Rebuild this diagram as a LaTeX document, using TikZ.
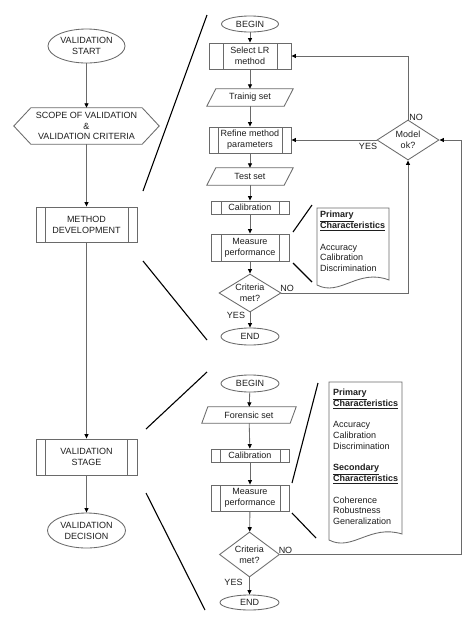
\documentclass[tikz,border=0pt]{standalone}
\usepackage{fontspec}
\setmainfont{Liberation Sans}
\usetikzlibrary{shapes.geometric,arrows.meta}
\definecolor{linegray}{HTML}{6A6A6A}
\definecolor{txtc}{HTML}{1E1E1E}
\newcommand\paraframe[2]{\draw[shp] ([xshift=-#2]#1.south west) -- ([xshift=#2]#1.north west) -- ([xshift=#2]#1.north east) -- ([xshift=-#2]#1.south east) -- cycle;}
\begin{document}
\begin{tikzpicture}[x=1pt,y=-1pt,
 every node/.style={font=\fontsize{9}{10.8}\selectfont, text=txtc, align=center, inner sep=0pt},
 shp/.style={draw=linegray, line width=0.85pt},
 ell/.style={shp, ellipse},
 proc/.style={shp, rectangle, path picture={
   \draw[linegray, line width=0.85pt] ([xshift=#1]path picture bounding box.north west) -- ([xshift=#1]path picture bounding box.south west);
   \draw[linegray, line width=0.85pt] ([xshift=-#1]path picture bounding box.north east) -- ([xshift=-#1]path picture bounding box.south east);}},
 proc/.default=9pt,
 dia/.style={shp, diamond, aspect=1.6},
 arr/.style={draw=linegray, line width=0.85pt, -{Triangle[length=4.5pt,width=4pt,color=black]}},
 zl/.style={draw=black, line width=1.1pt}
]
\fill[white] (0,0) rectangle (474,630);
\useasboundingbox (0,0) rectangle (474,630);

% ---------- left column ----------
\node[ell, minimum width=77, minimum height=34] (vstart) at (86.5,46) {VALIDATION\\START};
\node[minimum width=145, minimum height=36] (scopenode) at (86.5,126) {SCOPE OF VALIDATION\\\&\\VALIDATION CRITERIA};
\draw[shp] (scopenode.west) -- ([xshift=17]scopenode.north west) -- ([xshift=-17]scopenode.north east) -- (scopenode.east) -- ([xshift=-17]scopenode.south east) -- ([xshift=17]scopenode.south west) -- cycle;
\node[proc=9pt, minimum width=101, minimum height=35] (methdev) at (86.5,224.5) {METHOD\\DEVELOPMENT};
\node[proc=9.5pt, minimum width=101, minimum height=36] (valstage) at (86.5,457) {VALIDATION\\STAGE};
\node[ell, minimum width=78, minimum height=35] (vdec) at (86.5,530.5) {VALIDATION\\DECISION};

\draw[arr] (vstart) -- (scopenode);
\draw[arr] (scopenode) -- (methdev);
\draw[arr] (methdev) -- (valstage);
\draw[arr] (valstage) -- (vdec);

% ---------- upper right flow ----------
\node[ell, minimum width=57, minimum height=16] (begina) at (250,24) {BEGIN};
\node[proc=14pt, minimum width=82, minimum height=26] (select) at (250,56) {Select LR\\method};
\node[minimum width=77, minimum height=17] (train) at (250,97.5) {Trainig set};
\paraframe{train}{4.5}
\node[proc=9pt, minimum width=82, minimum height=26] (refine) at (250,140) {Refine method\\parameters};
\node[minimum width=77, minimum height=17] (testset) at (250,176.5) {Test set};
\paraframe{testset}{4.5}
\node[proc=10pt, minimum width=78, minimum height=13] (calia) at (250,207.5) {Calibration};
\node[proc=10pt, minimum width=78, minimum height=27] (measa) at (250,247.5) {Measure\\performance};
\node[dia, minimum width=62, minimum height=38] (crita) at (250,293) {Criteria\\met?};
\node[ell, minimum width=58, minimum height=17] (enda) at (250,336.5) {END};

\draw[arr] (begina) -- (select);
\draw[arr] (select) -- (train);
\draw[arr] (train) -- (refine);
\draw[arr] (refine) -- (testset);
\draw[arr] (testset) -- (calia);
\draw[arr] (calia) -- (measa);
\draw[arr] (measa) -- (crita);
\draw[arr] (crita) -- (enda);
\node (yesa) at (236,315) {YES};
\node (noa) at (287,288) {NO};

% model ok
\node[dia, minimum width=62, minimum height=40] (model) at (408,140) {Model\\ok?};
\node (nom) at (416,117) {NO};
\node (yesm) at (368,146) {YES};
\draw[arr] (model.north) |- (select.east);
\draw[arr] (model.west) -- (refine.east);
\draw[arr] (crita.east) -| (model.south);

% doc 1
\draw[shp] (317,285) -- (317,208) -- (389,208) -- (389,280) .. controls (358,268) and (340,297) .. (317,285) -- cycle;
\node[anchor=north west, align=left, font=\fontsize{9}{10.8}\selectfont] (docatext) at (320,211)
 {\textbf{\underline{Primary}}\\\textbf{\underline{Characteristics}}\\[10.8pt]Accuracy\\Calibration\\Discrimination};
\draw[zl] (293,232) -- (312,205);
\draw[zl] (293,263) -- (312,282);

% ---------- lower right flow ----------
\node[ell, minimum width=58, minimum height=17] (beginb) at (250,383.5) {BEGIN};
\node[minimum width=88, minimum height=16] (foren) at (249,415) {Forensic set};
\paraframe{foren}{3}
\node[proc=9pt, minimum width=78, minimum height=13] (calib) at (250,455.5) {Calibration};
\node[proc=9pt, minimum width=78, minimum height=26] (measb) at (250,498) {Measure\\performance};
\node[dia, minimum width=60, minimum height=45] (critb) at (249.5,554.5) {Criteria\\met?};
\node[ell, minimum width=59, minimum height=15] (endb) at (249.5,602.5) {END};

\draw[arr] (beginb) -- (foren);
\draw[arr] (foren) -- (calib);
\draw[arr] (calib) -- (measb);
\draw[arr] (measb) -- (critb);
\draw[arr] (critb) -- (endb);
\node (yesb) at (233.5,582) {YES};
\node (nob) at (285.5,550) {NO};

\coordinate (rcorner) at (461,554.5);
\draw[arr] (critb.east) -- (rcorner) |- (model.east);

% doc 2
\draw[shp] (329,540) -- (329,382) -- (402,382) -- (402,534) .. controls (370,524) and (352,552) .. (329,540) -- cycle;
\node[anchor=north west, align=left, font=\fontsize{9}{10.75}\selectfont] (docbtext) at (333,389)
 {\textbf{\underline{Primary}}\\\textbf{\underline{Characteristics}}\\[10.75pt]Accuracy\\Calibration\\Discrimination\\[10.75pt]\textbf{\underline{Secondary}}\\\textbf{\underline{Characteristics}}\\[10.75pt]Coherence\\Robustness\\Generalization};
\draw[zl] (292,483) -- (318,383);
\draw[zl] (292,513) -- (316,538);

% ---------- zoom lines ----------
\draw[zl] (207,15) -- (143,191);
\draw[zl] (143,261) -- (207,340);
\draw[zl] (146,429) -- (207,372);
\draw[zl] (146,493) -- (205,610);
\end{tikzpicture}
\end{document}
